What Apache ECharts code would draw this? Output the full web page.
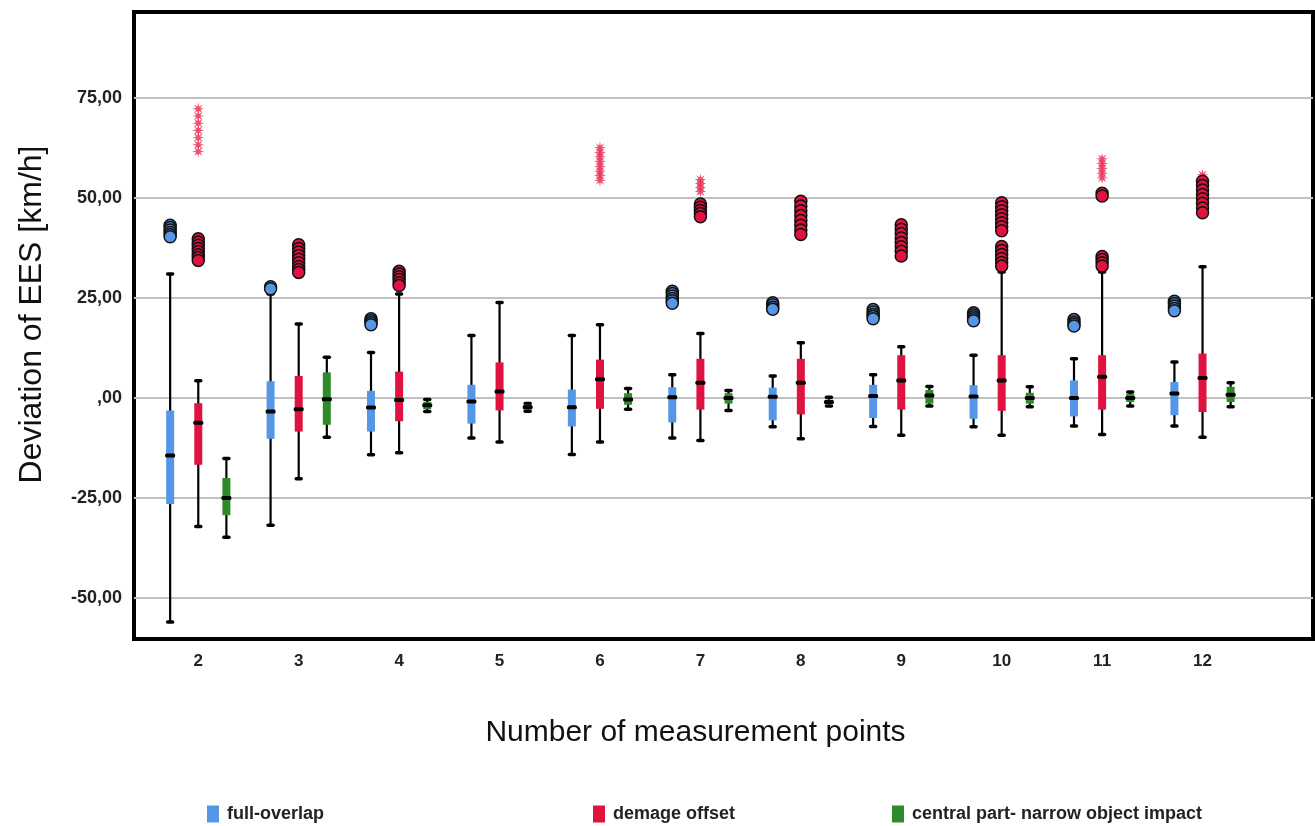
<!DOCTYPE html>
<html>
<head>
<meta charset="utf-8">
<title>Deviation of EES</title>
<script src="https://cdn.jsdelivr.net/npm/echarts@6/dist/echarts.min.js"></script>
<style>
	html, body { margin: 0; padding: 0; background: #fff; }
	#chart { width: 1315px; height: 826px; }
</style>
</head>
<body>
<div id="chart"></div>
<script>
'use strict';

//   x categories (number of measurement points)
var categories = [2, 3, 4, 5, 6, 7, 8, 9, 10, 11, 12];
var yTicks = [-50, -25, 0, 25, 50, 75];

//   boxes: [lower whisker, Q1, median, Q3, upper whisker]
var fullBox = [
	[-56.0, -26.5, -14.4, -3.1, 31.0],
	[-31.8, -10.2, -3.4, 4.2, 26.0],
	[-14.2, -8.4, -2.4, 1.8, 11.4],
	[-10.0, -6.4, -0.9, 3.3, 15.6],
	[-14.1, -7.1, -2.3, 2.1, 15.6],
	[-10.0, -6.1, 0.2, 2.7, 5.8],
	[-7.2, -5.6, 0.3, 2.6, 5.5],
	[-7.1, -5.0, 0.5, 3.3, 5.8],
	[-7.2, -5.2, 0.4, 3.2, 10.7],
	[-7.0, -4.6, 0.0, 4.4, 9.8],
	[-7.0, -4.3, 1.1, 4.0, 9.0]
];
var offsetBox = [
	[-32.1, -16.7, -6.2, -1.3, 4.3],
	[-20.2, -8.4, -2.8, 5.5, 18.5],
	[-13.7, -5.8, -0.5, 6.6, 26.0],
	[-11.0, -3.1, 1.6, 8.9, 23.9],
	[-11.0, -2.7, 4.7, 9.6, 18.3],
	[-10.6, -2.9, 3.8, 9.8, 16.1],
	[-10.2, -4.1, 3.8, 9.8, 13.8],
	[-9.3, -2.9, 4.4, 10.7, 12.8],
	[-9.3, -3.2, 4.4, 10.7, 31.5],
	[-9.1, -2.9, 5.3, 10.7, 31.5],
	[-9.8, -3.5, 5.0, 11.1, 32.8]
];
var centralBox = [
	[-34.8, -29.3, -25.0, -20.0, -15.1],
	[-9.8, -6.7, -0.3, 6.4, 10.2],
	[-3.4, -2.8, -1.8, -1.0, -0.4],
	[-3.3, -2.9, -2.3, -1.7, -1.4],
	[-2.8, -1.7, -0.4, 1.2, 2.4],
	[-3.1, -1.4, 0.0, 1.2, 1.9],
	[-2.0, -1.6, -1.0, -0.4, 0.2],
	[-2.0, -1.4, 0.6, 2.0, 2.9],
	[-2.2, -1.4, 0.0, 1.3, 2.8],
	[-2.0, -1.0, 0.0, 1.0, 1.5],
	[-2.2, -1.0, 0.8, 2.8, 3.8]
];

//   outliers (circles) per category
var fullOutliers = [
	[43.2, 42.6, 42.0, 41.4, 40.8, 40.3],
	[27.8, 27.3],
	[19.8, 19.3, 18.8, 18.3],
	[],
	[],
	[26.7, 26.1, 25.5, 24.9, 24.3, 23.7],
	[23.8, 23.3, 22.7, 22.2],
	[22.1, 21.5, 20.9, 20.4, 19.8],
	[21.3, 20.8, 20.3, 19.8, 19.3],
	[19.6, 19.0, 18.5, 18.0],
	[24.2, 23.6, 23.0, 22.4, 21.8]
];
var offsetOutliers = [
	[39.8, 39.0, 38.2, 37.4, 36.6, 35.8, 35.1, 34.4],
	[38.3, 37.4, 36.5, 35.6, 34.7, 33.8, 32.9, 32.1, 31.4],
	[31.7, 31.0, 30.3, 29.6, 28.8, 28.1],
	[],
	[],
	[48.5, 47.7, 46.9, 46.1, 45.3],
	[49.2, 48.0, 46.8, 45.6, 44.4, 43.2, 42.0, 40.9],
	[43.3, 42.2, 41.1, 40.0, 38.9, 37.8, 36.7, 35.5],
	[48.8, 47.8, 46.8, 45.8, 44.8, 43.8, 42.8, 41.8, 37.9, 36.9, 35.9, 34.9, 33.9, 33.0],
	[51.2, 50.5, 35.4, 34.6, 33.8, 33.0],
	[54.2, 53.1, 52.0, 50.9, 49.8, 48.7, 47.5, 46.3]
];
//   extremes (stars), only demage offset has them
var offsetExtremes = [
	[72.3, 70.5, 68.7, 66.9, 65.1, 63.3, 61.6],
	[],
	[],
	[],
	[62.6, 61.4, 60.3, 59.1, 57.9, 56.7, 55.6, 54.4],
	[54.6, 53.6, 52.6, 51.6],
	[],
	[],
	[],
	[59.8, 58.6, 57.4, 56.2, 55.0],
	[55.8]
];

var BLUE = '#5597e6';
var RED = '#e0123f';
var GREEN = '#2f8a2a';
var STAR = '#e8264e';
var FONT = "'Liberation Sans', Arial, sans-serif";

//   series offsets inside one category
var OFF_FULL = -0.28, OFF_OFFSET = 0, OFF_CENTRAL = 0.28;

function boxData(box) {
	return box.map(function (b, i) {
		return [categories[i]].concat(b);
	});
}

function pointData(list, offset) {
	var out = [];
	list.forEach(function (vals, i) {
		vals.forEach(function (v) {
			out.push([categories[i] + offset, v]);
		});
	});
	return out;
}

//   box + whisker drawing
function boxRenderer(offset, color) {
	return function (params, api) {
		var x = api.value(0) + offset;
		var lo = api.coord([x, api.value(1)]);
		var q1 = api.coord([x, api.value(2)]);
		var md = api.coord([x, api.value(3)]);
		var q3 = api.coord([x, api.value(4)]);
		var hi = api.coord([x, api.value(5)]);
		var cx = lo[0];
		return {
			type: 'group',
			children: [
				{ type: 'line', shape: { x1: cx, y1: hi[1], x2: cx, y2: lo[1] }, style: { stroke: '#000', lineWidth: 2.2 } },
				{ type: 'line', shape: { x1: cx - 2.5, y1: hi[1], x2: cx + 2.5, y2: hi[1] }, style: { stroke: '#000', lineWidth: 3.5, lineCap: 'round' } },
				{ type: 'line', shape: { x1: cx - 2.5, y1: lo[1], x2: cx + 2.5, y2: lo[1] }, style: { stroke: '#000', lineWidth: 3.5, lineCap: 'round' } },
				{ type: 'rect', shape: { x: cx - 4, y: q3[1], width: 8, height: q1[1] - q3[1] }, style: { fill: color } },
				{ type: 'rect', shape: { x: cx - 5, y: md[1] - 2, width: 10, height: 4, r: 1.5 }, style: { fill: '#000' } }
			]
		};
	};
}

//   asterisk marker
function starPath(n, inner) {
	var pts = [];
	for (var i = 0; i < n * 2; i++) {
		var a = Math.PI * i / n - Math.PI / 2;
		var r = i % 2 ? inner : 10;
		pts.push((Math.cos(a) * r + 10).toFixed(2) + ' ' + (Math.sin(a) * r + 10).toFixed(2));
	}
	return 'path://M' + pts.join(' L') + ' Z';
}

function boxSeries(name, box, offset, color) {
	return {
		name: name,
		type: 'custom',
		renderItem: boxRenderer(offset, color),
		itemStyle: { color: color },
		encode: { x: 0, y: [1, 2, 3, 4, 5] },
		data: boxData(box),
		z: 3
	};
}

function outlierSeries(name, list, offset, color) {
	return {
		name: name,
		type: 'scatter',
		symbol: 'circle',
		symbolSize: 12,
		itemStyle: { color: color, borderColor: '#111', borderWidth: 1.5, opacity: 1 },
		data: pointData(list, offset),
		z: 5,
		silent: true
	};
}

function legendAt(left, name) {
	return {
		left: left,
		top: 805,
		padding: 0,
		icon: 'rect',
		itemWidth: 12,
		itemHeight: 17,
		selectedMode: false,
		data: [name],
		textStyle: { fontFamily: FONT, fontWeight: 'bold', fontSize: 18, color: '#222', padding: [0, 0, 0, 3] }
	};
}

var chart = echarts.init(document.getElementById('chart'));

chart.setOption({
	backgroundColor: '#fff',
	animation: false,
	grid: {
		left: 134, right: 2, top: 12, bottom: 187,
		show: true, borderColor: '#000', borderWidth: 4, backgroundColor: 'transparent'
	},
	legend: [
		legendAt(207, 'full-overlap'),
		legendAt(593, 'demage offset'),
		legendAt(892, 'central part- narrow object impact')
	],
	xAxis: {
		type: 'value',
		min: 1.36,
		max: 13.1,
		axisLine: { show: false },
		axisTick: { show: false, customValues: categories },
		splitLine: { show: false },
		axisLabel: {
			customValues: categories,
			margin: 14,
			fontFamily: FONT, fontWeight: 'bold', fontSize: 17, color: '#222'
		},
		name: 'Number of measurement points',
		nameLocation: 'middle',
		nameGap: 79,
		nameTextStyle: { fontFamily: FONT, fontSize: 30, color: '#111', padding: [0, 56, 0, 0] }
	},
	yAxis: {
		type: 'value',
		min: -60.25,
		max: 96.5,
		axisLine: { show: false },
		axisTick: { show: false, customValues: yTicks },
		splitLine: { show: true, lineStyle: { color: '#c0c0c0', width: 2 } },
		axisLabel: {
			customValues: yTicks,
			margin: 12,
			fontFamily: FONT, fontWeight: 'bold', fontSize: 18, color: '#222',
			formatter: function (v) {
				return v === 0 ? ',00' : v.toFixed(2).replace('.', ',');
			}
		},
		name: 'Deviation of EES [km/h]',
		nameLocation: 'middle',
		nameGap: 86,
		nameTextStyle: { fontFamily: FONT, fontSize: 32, color: '#111', padding: [0, 0, 0, 22] }
	},
	series: [
		boxSeries('full-overlap', fullBox, OFF_FULL, BLUE),
		boxSeries('demage offset', offsetBox, OFF_OFFSET, RED),
		boxSeries('central part- narrow object impact', centralBox, OFF_CENTRAL, GREEN),
		{
			name: 'demage offset extremes',
			type: 'scatter',
			symbol: starPath(8, 3.8),
			symbolSize: 12,
			itemStyle: { color: STAR },
			data: pointData(offsetExtremes, OFF_OFFSET),
			z: 4,
			silent: true
		},
		outlierSeries('full-overlap outliers', fullOutliers, OFF_FULL, BLUE),
		outlierSeries('demage offset outliers', offsetOutliers, OFF_OFFSET, RED)
	]
});
</script>
</body>
</html>
